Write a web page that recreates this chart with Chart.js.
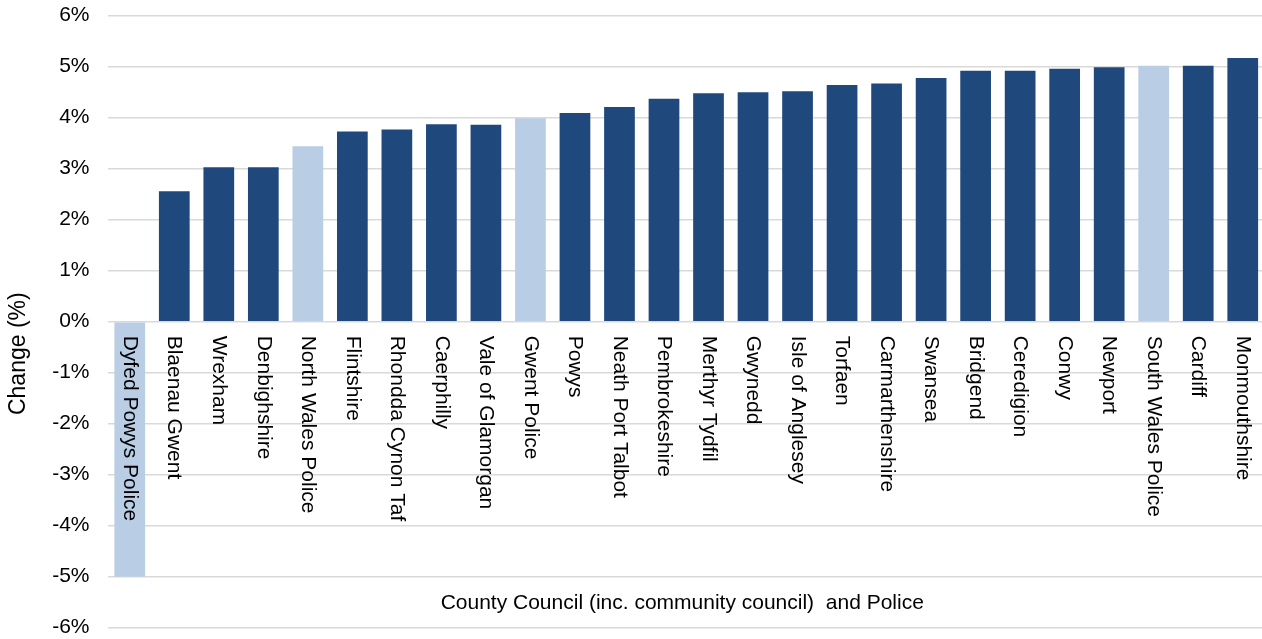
<!DOCTYPE html>
<html>
<head>
<meta charset="utf-8">
<script src="https://cdn.jsdelivr.net/npm/chart.js@4/dist/chart.umd.min.js"></script>
<style>
  html, body { margin: 0; padding: 0; overflow: hidden; background: #fff; }
  #wrap { width: 1265px; height: 639px; }
</style>
</head>
<body>
<div id="wrap"><canvas id="changeChart"></canvas></div>
<script>
// Change by county council / police force (%)
const categories = [
    'Dyfed Powys Police', 'Blaenau Gwent', 'Wrexham', 'Denbighshire', 'North Wales Police',
    'Flintshire', 'Rhondda Cynon Taf', 'Caerphilly', 'Vale of Glamorgan', 'Gwent Police',
    'Powys', 'Neath Port Talbot', 'Pembrokeshire', 'Merthyr Tydfil', 'Gwynedd',
    'Isle of Anglesey', 'Torfaen', 'Carmarthenshire', 'Swansea', 'Bridgend',
    'Ceredigion', 'Conwy', 'Newport', 'South Wales Police', 'Cardiff', 'Monmouthshire'
];
const changes = [
    -5.0, 2.56, 3.03, 3.03, 3.44,
    3.73, 3.77, 3.87, 3.86, 3.99,
    4.09, 4.21, 4.37, 4.48, 4.50,
    4.52, 4.64, 4.67, 4.78, 4.92,
    4.92, 4.96, 4.99, 5.02, 5.02, 5.17
];
const policeForces = ['Dyfed Powys Police', 'North Wales Police', 'Gwent Police', 'South Wales Police'];
const yTicks = [-6, -5, -4, -3, -2, -1, 0, 1, 2, 3, 4, 5, 6];

const xTitle = 'County Council (inc. community council)  and Police';
const yTitle = 'Change (%)';

const FONT = '"Liberation Sans", Arial, sans-serif';

// labels sit under the zero line, rotated clockwise, plus both axis titles
const labelsPlugin = {
    id: 'catLabels',
    afterDatasetsDraw(chart) {
        const { ctx, chartArea, scales: { x, y } } = chart;
        const y0 = y.getPixelForValue(0);
        ctx.save();
        ctx.fillStyle = '#000';
        ctx.font = '21px ' + FONT;
        ctx.textAlign = 'left';
        ctx.textBaseline = 'middle';
        categories.forEach((name, i) => {
            ctx.save();
            ctx.translate(x.getPixelForValue(i), y0 + 14);
            ctx.rotate(Math.PI / 2);
            ctx.fillText(name, 0, 0);
            ctx.restore();
        });

        ctx.textAlign = 'center';
        ctx.fillText(xTitle, (chartArea.left + chartArea.right) / 2 - 4, chartArea.bottom - 24);

        ctx.font = '23px ' + FONT;
        ctx.translate(19, (chartArea.top + chartArea.bottom) / 2 + 32);
        ctx.rotate(-Math.PI / 2);
        ctx.fillText(yTitle, 0, 0);
        ctx.restore();
    }
};

new Chart(document.getElementById('changeChart'), {
    type: 'bar',
    data: {
        labels: categories,
        datasets: [{
            data: changes,
            backgroundColor: categories.map(c => policeForces.includes(c) ? '#B9CDE5' : '#1F497D'),
            borderWidth: 0,
            categoryPercentage: 1,
            barPercentage: 0.69
        }]
    },
    options: {
        responsive: true,
        maintainAspectRatio: false,
        animation: false,
        layout: { padding: { top: 15.7, bottom: 11.3, left: 0, right: 0 } },
        plugins: {
            legend: { display: false },
            tooltip: { enabled: false }
        },
        scales: {
            x: {
                display: false,
                grid: { display: false }
            },
            y: {
                min: -6,
                max: 6,
                afterBuildTicks(scale) {
                    scale.ticks = yTicks.map(v => ({ value: v }));
                },
                afterFit(scale) {
                    scale.width = 107.5;
                    scale.paddingTop = 0;
                    scale.paddingBottom = 0;
                },
                border: { display: false },
                grid: {
                    color: '#D9D9D9',
                    lineWidth: 1.5,
                    drawTicks: false
                },
                ticks: {
                    padding: 18,
                    color: '#000',
                    font: { family: FONT, size: 21, lineHeight: 1 },
                    callback: v => v + '%'
                }
            }
        }
    },
    plugins: [labelsPlugin]
});
</script>
</body>
</html>
